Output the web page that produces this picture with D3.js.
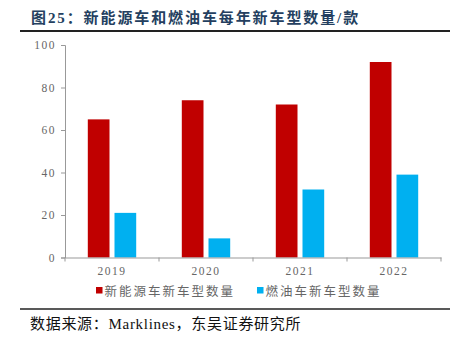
<!DOCTYPE html>
<html><head><meta charset="utf-8">
<script src="https://cdn.jsdelivr.net/npm/d3@7"></script>
<style>
body{margin:0;background:#fff;}
svg{display:block;}
</style></head>
<body>
<svg id="c" width="465" height="349"></svg>
<script>
const categories = ["2019","2020","2021","2022"];
const nevValues = [65, 74, 72, 92];
const iceValues = [21, 9, 32, 39];
const seriesNames = ["新能源车新车型数量","燃油车新车型数量"];
const yTicks = [0,20,40,60,80,100];
const titleText = "图25：新能源车和燃油车每年新车型数量/款";
const sourceText = "数据来源：Marklines，东吴证券研究所";

const svg = d3.select("#c");
const serif = "'Liberation Serif','Times New Roman','Noto Sans CJK SC',serif";
const colors = ["#C00000","#00B0F0"];

// title
svg.append("text").attr("x",31).attr("y",23)
  .attr("font-family",serif).attr("font-size",15).attr("font-weight","bold")
  .attr("letter-spacing",1.9)
  .attr("fill","#243F60").text(titleText);
svg.append("line").attr("x1",20).attr("x2",450).attr("y1",31).attr("y2",31)
  .attr("stroke","#222").attr("stroke-width",2);

const x0 = d3.scaleBand().domain(categories).range([65,441]).paddingInner(0).paddingOuter(0);
const y = d3.scaleLinear().domain([0,100]).range([257.5,45]);

// bars
const data = categories.map((c,i)=>({c, vals:[nevValues[i], iceValues[i]]}));
const barW = 21.7, gap = 5;
const x1 = d3.scaleBand().domain([0,1]).range([0, barW*2+gap]).paddingInner(gap/(barW+gap)).paddingOuter(0);
const g = svg.append("g");
data.forEach(d=>{
  const off = x0(d.c) + (x0.bandwidth() - (barW*2+gap))/2;
  d.vals.forEach((v,k)=>{
    g.append("rect").attr("x", off + x1(k)).attr("width", x1.bandwidth())
      .attr("y", y(v)).attr("height", y(0)-y(v)).attr("fill", colors[k]);
  });
});

// y axis
const yAxis = d3.axisLeft(y).tickValues(yTicks).tickSize(4).tickPadding(5).tickFormat(d3.format("d"));
const ya = svg.append("g").attr("transform","translate(65,0)").call(yAxis);
ya.selectAll("path,line").attr("stroke","#999");
ya.selectAll("text").attr("font-family",serif).attr("font-size",11.5).attr("fill","#666").attr("letter-spacing",1.5);

// x axis
const xa = svg.append("g").attr("transform",`translate(0,${y(0)})`)
  .call(d3.axisBottom(x0).tickSize(0).tickPadding(9));
xa.select(".domain").attr("stroke","#999");
xa.selectAll("text").attr("font-family",serif).attr("font-size",11.5).attr("fill","#666").attr("letter-spacing",1.5);
const bounds = categories.map(c=>x0(c)).concat([x0.range()[1]]);
xa.selectAll(".btick").data(bounds).enter().append("line")
  .attr("x1",d=>d).attr("x2",d=>d).attr("y1",0).attr("y2",4).attr("stroke","#999");

// legend
const legX = [96, 257];
seriesNames.forEach((n,k)=>{
  svg.append("rect").attr("x",legX[k]).attr("y",287).attr("width",6.5).attr("height",6.5).attr("fill",colors[k]);
  svg.append("text").attr("x",legX[k]+8.5).attr("y",296)
    .attr("font-family",serif).attr("font-size",12.5).attr("fill","#666").attr("letter-spacing",2.0).text(n);
});

// footer
svg.append("line").attr("x1",20).attr("x2",450).attr("y1",309).attr("y2",309)
  .attr("stroke","#222").attr("stroke-width",1.5);
svg.append("text").attr("x",30).attr("y",329)
  .attr("font-family",serif).attr("font-size",15).attr("letter-spacing",0.7).attr("fill","#111").text(sourceText);
</script>
</body></html>
